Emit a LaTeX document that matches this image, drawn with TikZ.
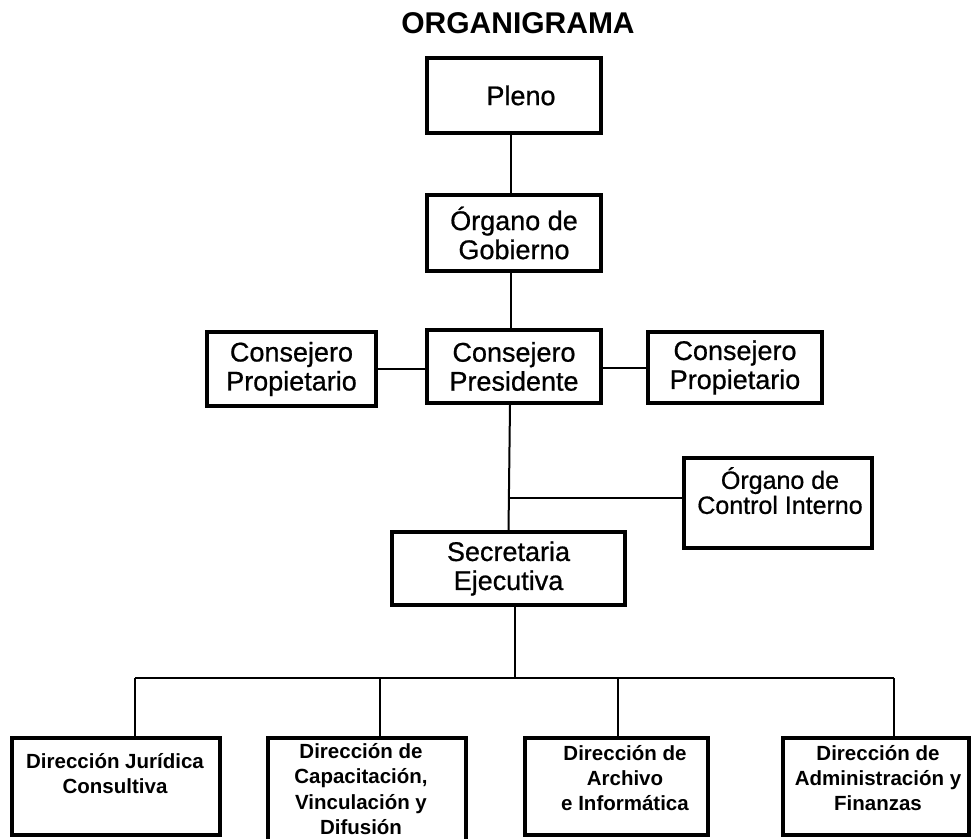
\documentclass[tikz,border=0pt]{standalone}
\usepackage{fontspec}
\setmainfont{Liberation Sans}
\newfontfamily\heavyfont{Liberation Sans}[FakeBold=0.7]
\begin{document}
\begin{tikzpicture}[x=1pt,y=-1pt,
  box/.style={draw, line width=3.2pt, rectangle, inner sep=0pt, align=center,
    font=\heavyfont\fontsize{27}{29}\selectfont},
  plainbox/.style={draw, line width=3.2pt, rectangle, inner sep=0pt},
  ctext/.style={inner sep=0pt, align=center, font=\heavyfont\fontsize{25}{25}\selectfont},
  btext/.style={inner sep=0pt, align=center, font=\bfseries\fontsize{20.5}{25}\selectfont},
  conn/.style={line width=2pt}]
\clip (0,0) rectangle (971,838);
\fill[white] (0,0) rectangle (971,838);

\node[inner sep=0pt, font=\bfseries\fontsize{30}{32}\selectfont] (title) at (518,23) {ORGANIGRAMA};

\node[box, minimum width=174pt, minimum height=75pt] (pleno) at (514,95.5) {\hspace*{14pt}Pleno};
\node[box, minimum width=174pt, minimum height=76pt] (gob) at (514,233) {Órgano de\\Gobierno};
\node[box, minimum width=174pt, minimum height=73pt] (pres) at (514,366.5) {Consejero\\Presidente};
\node[box, minimum width=169pt, minimum height=74pt] (lcp) at (291.5,369) {Consejero\\Propietario};
\node[box, minimum width=174pt, minimum height=71pt] (rcp) at (735,367.5) {Consejero\\Propietario};
\node[plainbox, minimum width=188pt, minimum height=90pt] (ci) at (778,503) {};
\node[ctext, anchor=north] (cit) at (780,467) {Órgano de\\Control Interno};
\node[box, minimum width=233pt, minimum height=73pt] (sec) at (508.5,568.5) {Secretaria\\Ejecutiva};

\node[plainbox, minimum width=208pt, minimum height=97pt] (b1) at (116,786.5) {};
\node[plainbox, minimum width=198pt, minimum height=112pt] (b2) at (367,794) {};
\node[plainbox, minimum width=183pt, minimum height=97pt] (b3) at (616.5,786.5) {};
\node[plainbox, minimum width=186pt, minimum height=97pt] (b4) at (876,786.5) {};

\node[btext, anchor=north] (b1t) at (115,753) {Dirección Jurídica\\Consultiva};
\node[btext, anchor=north, font=\bfseries\fontsize{20.5}{25.5}\selectfont] (b2t) at (361,743) {Dirección de\\Capacitación,\\Vinculación y\\Difusión};
\node[btext, anchor=north] (b3t) at (625,745) {Dirección de\\Archivo\\e Informática};
\node[btext, anchor=north] (b4t) at (878,745) {Dirección de\\Administración y\\Finanzas};

% connectors
\draw[conn] ([xshift=-3pt]pleno.south) -- ([xshift=-3pt]gob.north);
\draw[conn] ([xshift=-3pt]gob.south) -- ([xshift=-3pt]pres.north);
\draw[conn] (lcp.east) -- (lcp.east -| pres.west);
\draw[conn] (rcp.west) -- (rcp.west -| pres.east);
\coordinate (j1) at (509,498);
\draw[conn] ([xshift=-4pt]pres.south) -- (sec.north);
\draw[conn] (j1) -- (j1 -| ci.west);
\coordinate (hb) at (515,678);
\draw[conn] (sec.south -| hb) -- (hb);
\coordinate (t1) at (135,678);
\coordinate (t2) at (380,678);
\coordinate (t3) at (618,678);
\coordinate (t4) at (894,678);
\draw[conn] (t1) -- (t4);
\draw[conn] (t1) -- (t1 |- b1.north);
\draw[conn] (t2) -- (t2 |- b2.north);
\draw[conn] (t3) -- (t3 |- b3.north);
\draw[conn] (t4) -- (t4 |- b4.north);
\end{tikzpicture}
\end{document}
